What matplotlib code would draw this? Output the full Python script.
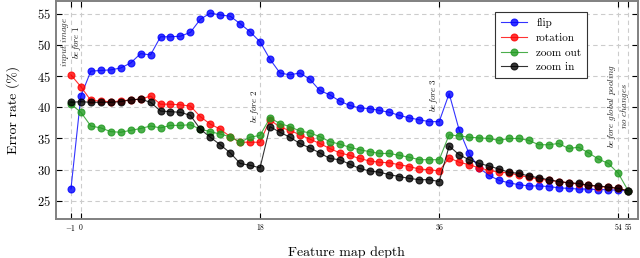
import numpy as np
import matplotlib
matplotlib.use("Agg")
import matplotlib.pyplot as plt

plt.rcParams['font.family'] = 'serif'
plt.rcParams['font.serif'] = ['cmr10', 'DejaVu Serif']
plt.rcParams['mathtext.fontset'] = 'cm'
plt.rcParams['axes.formatter.use_mathtext'] = True

# feature map depth (-1 = input image)
depth = np.arange(-1, 56)

flip = [26.9, 41.8, 45.8, 45.9, 46.0, 46.3, 47.1, 48.6, 48.4, 51.3,
        51.3, 51.4, 52.0, 54.1, 55.1, 54.8, 54.6, 53.4, 52.1, 50.5,
        47.7, 45.5, 45.2, 45.5, 44.5, 42.7, 42.0, 41.0, 40.3, 39.9,
        39.8, 39.5, 39.2, 38.7, 38.3, 38.0, 37.7, 37.7, 42.2, 36.4,
        32.6, 30.3, 29.1, 28.3, 27.9, 27.6, 27.4, 27.4, 27.3, 27.1,
        27.0, 26.9, 26.9, 26.8, 26.8, 26.7, 26.6]
rotation = [45.2, 43.3, 41.1, 41.0, 40.9, 41.0, 41.2, 41.3, 41.8, 40.5,
            40.5, 40.4, 40.2, 38.5, 37.3, 36.5, 35.3, 34.4, 34.4, 34.4,
            38.0, 36.8, 36.3, 35.6, 34.9, 34.2, 33.4, 32.7, 32.3, 31.8,
            31.4, 31.2, 31.1, 30.8, 30.5, 30.1, 30.0, 29.8, 31.9, 31.2,
            30.8, 30.3, 29.9, 29.6, 29.5, 29.1, 28.8, 28.5, 28.3, 28.1,
            27.9, 27.7, 27.5, 27.3, 27.2, 27.0, 26.6]
zoom_out = [40.5, 39.2, 37.0, 36.7, 36.1, 36.0, 36.3, 36.6, 37.0, 36.7,
            37.1, 37.1, 37.2, 36.5, 36.1, 35.7, 35.3, 34.4, 35.2, 35.5,
            38.3, 37.4, 36.9, 36.2, 35.9, 35.3, 34.5, 34.1, 33.6, 33.2,
            32.9, 32.6, 32.6, 32.3, 32.0, 31.6, 31.6, 31.6, 35.6, 35.4,
            35.2, 35.1, 35.0, 34.7, 35.0, 35.0, 34.7, 34.0, 34.0, 34.2,
            33.4, 33.6, 32.7, 31.7, 31.0, 29.4, 26.6]
zoom_in = [40.8, 40.9, 40.8, 40.8, 40.8, 40.9, 41.2, 41.3, 40.8, 39.4,
           39.3, 39.2, 38.7, 36.5, 35.2, 34.0, 32.7, 31.0, 30.7, 30.3,
           36.9, 36.0, 35.2, 34.2, 33.5, 32.7, 31.8, 31.6, 30.9, 30.2,
           29.8, 29.6, 29.2, 28.9, 28.6, 28.4, 28.4, 28.1, 33.8, 32.4,
           31.6, 31.0, 30.6, 30.1, 29.6, 29.4, 29.0, 28.7, 28.4, 28.1,
           27.9, 27.8, 27.5, 27.4, 27.2, 27.0, 26.6]

series = [("flip", flip, "#0000ff"),
          ("rotation", rotation, "#ff0000"),
          ("zoom out", zoom_out, "#1f9a1f"),
          ("zoom in", zoom_in, "#000000")]

xticks = [-1, 0, 18, 36, 54, 55]
yticks = [25, 30, 35, 40, 45, 50, 55]

# stage annotations: (x, y centre, text)
notes = [(-1.6, 50.4, r"$\mathit{input\ image}$"),
         (-0.4, 50.4, r"$\mathit{before\ 1}$"),
         (17.5, 40.2, r"$\mathit{before\ 2}$"),
         (35.5, 42.0, r"$\mathit{before\ 3}$"),
         (53.4, 40.2, r"$\mathit{before\ global\ pooling}$"),
         (54.6, 40.2, r"$\mathit{no\ changes}$")]

fig = plt.figure(figsize=(6.4, 2.58), dpi=100)
ax = fig.add_axes([0.0875, 0.15, 0.909, 0.846])

for label, vals, col in series:
    ax.plot(depth, vals, color=col, lw=0.8, alpha=0.8, marker='o', ms=5,
            mfc=matplotlib.colors.to_rgba(col, 0.4),
            mec=matplotlib.colors.to_rgba(col, 0.65), mew=0.8, label=label)

for x, y, txt in notes:
    ax.text(x, y, txt, rotation=90, ha='center', va='center',
            fontsize=6.5, color='#222222')

ax.set_xlim(-2.5, 55.95)
ax.set_ylim(22.05, 57.03)
ax.set_xticks(xticks)
ax.set_xticklabels([r"$-1$", "0", "18", "36", "54", "55"])
ax.set_yticks(yticks)
ax.tick_params(axis='x', labelsize=5.5, direction='in', length=4, width=0.8,
               top=True, pad=3)
ax.tick_params(axis='y', labelsize=9, direction='in', length=4, width=0.8,
               right=True)
ax.grid(True, color='#cccccc', linestyle=(0, (4, 3)), lw=0.8)
ax.set_axisbelow(True)
for s in ax.spines.values():
    s.set_color('#808080')
    s.set_linewidth(1.4)

ax.set_xlabel("Feature map depth", fontsize=10, labelpad=9)
ax.set_ylabel("Error rate (%)", fontsize=10, labelpad=12)

leg = ax.legend(loc='upper right', bbox_to_anchor=(0.922, 0.973), fontsize=8,
                fancybox=False, edgecolor='#333333', framealpha=1,
                handlelength=2.4, borderpad=0.5, labelspacing=0.45,
                handletextpad=0.8)
leg.get_frame().set_linewidth(0.8)

fig.savefig("out.png", dpi=100)
